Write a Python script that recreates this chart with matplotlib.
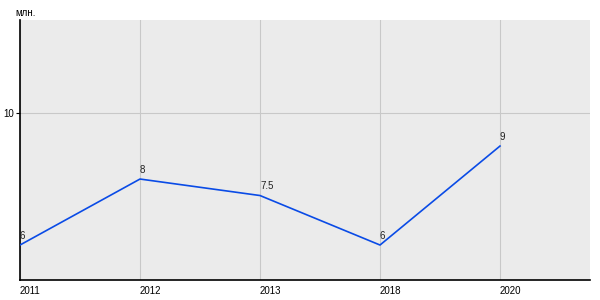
import matplotlib
matplotlib.use("Agg")
import matplotlib.pyplot as plt

years = ["2011", "2012", "2013", "2018", "2020"]
values = [6, 8, 7.5, 6, 9]
labels = ["6", "8", "7.5", "6", "9"]

plt.rcParams['font.family'] = ['Liberation Sans', 'DejaVu Sans']

fig = plt.figure(figsize=(6, 3), dpi=100)
ax = fig.add_axes([20/600, 20/300, 570/600, 260/300])
ax.set_facecolor('#ebebeb')
x = list(range(len(years)))
ax.plot(x, values, color='#0a4be6', lw=1.2, zorder=3)
for xi, v, l in zip(x, values, labels):
    ax.annotate(l, (xi, v), xytext=(0, 3), textcoords='offset points',
                fontsize=7, ha='left', va='bottom', color='#222222')

ax.set_xlim(0, 4.75)
ax.set_ylim(4.94, 12.82)
ax.set_xticks(x)
ax.set_xticklabels(years, ha='left', fontsize=7)
ax.set_yticks([10])
ax.set_yticklabels(["10"], fontsize=7)
ax.grid(True, color='#c8c8c8', lw=0.8)
ax.set_axisbelow(True)
for s in ['top', 'right']:
    ax.spines[s].set_visible(False)
for s in ['left', 'bottom']:
    ax.spines[s].set_color('black')
    ax.spines[s].set_linewidth(1.2)
ax.tick_params(axis='x', length=0, pad=4)
ax.tick_params(axis='y', length=3, pad=1, width=0.8)
fig.text(15/600, 1 - 13/300, "млн.", fontsize=7, ha='left', va='center')
fig.savefig("out.png", dpi=100)
